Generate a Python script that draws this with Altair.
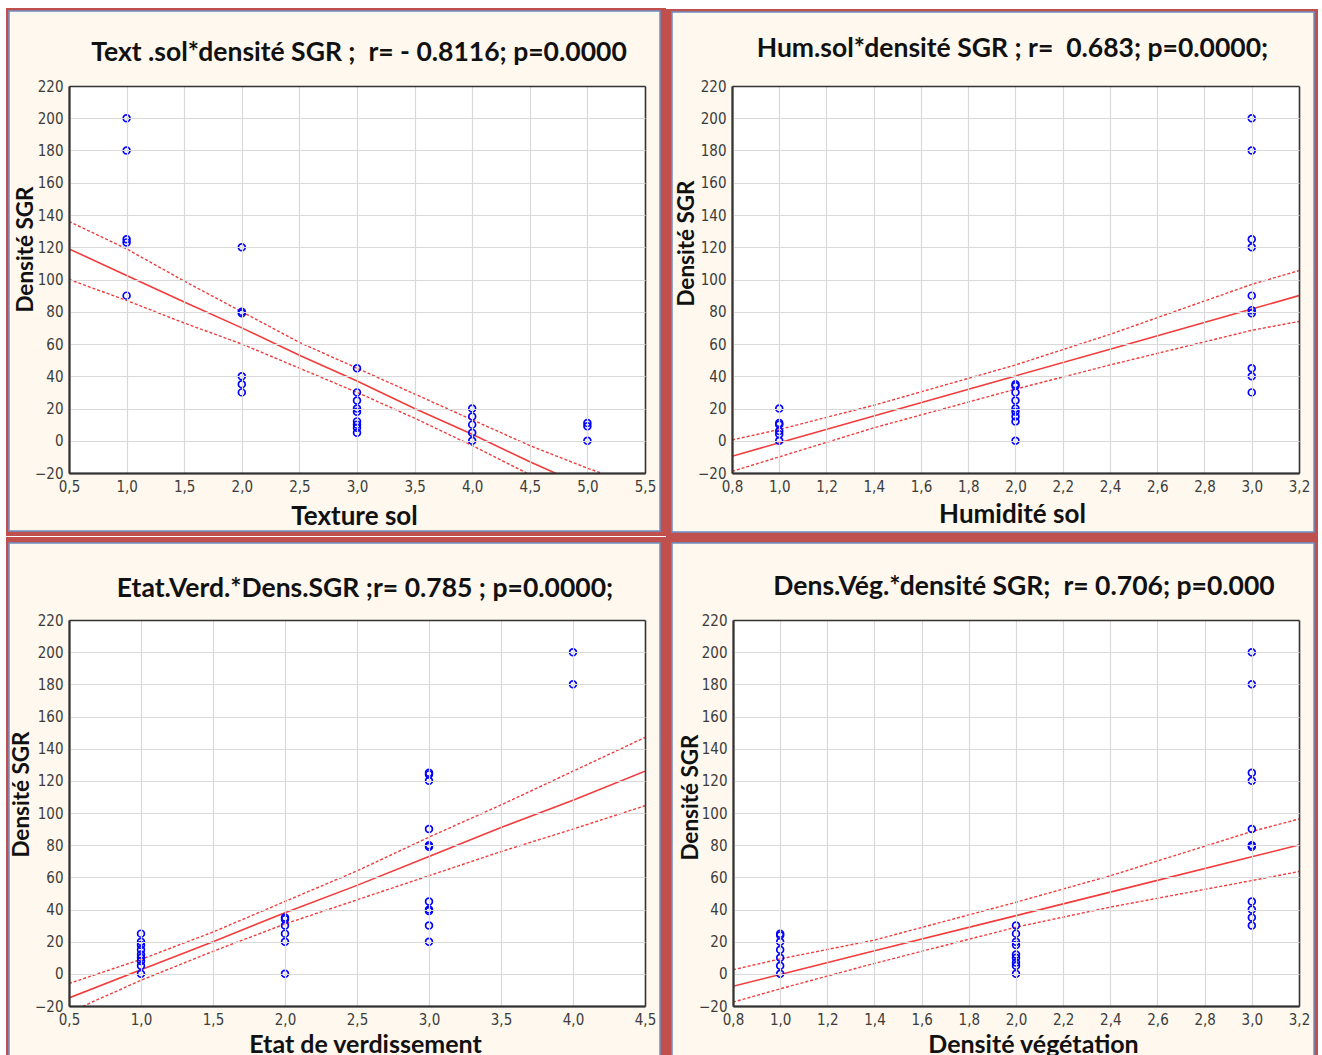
import altair as alt
import pandas as pd

# ---------------- data ----------------
# Panel 1 : Texture sol
tex_levels = [1, 2, 3, 4, 5]
tex_values = [
    [200, 180, 125, 123, 90],
    [120, 80, 79, 40, 35, 30],
    [45, 30, 25, 20, 18, 12, 10, 8, 5],
    [20, 15, 10, 5, 0],
    [11, 9, 0],
]
tex_line_x = [0.5, 1.0, 1.5, 2.0, 2.5, 3.0, 3.5, 4.0, 4.5, 5.0, 5.5]
tex_fit = [119, 102.5, 86, 70, 53, 37, 20, 4, -13, -29, -46]
tex_up = [136, 119, 99, 80, 61, 45, 29, 13, -3, -17, -30]
tex_lo = [100, 87, 73, 60, 45, 30, 14, -3, -21, -38, -55]
tex_ticks = [0.5, 1.0, 1.5, 2.0, 2.5, 3.0, 3.5, 4.0, 4.5, 5.0, 5.5]

# Panel 2 : Humidité sol
hum_levels = [1, 2, 3]
hum_values = [
    [20, 11, 10, 6, 4, 0],
    [35, 34, 30, 25, 20, 18, 15, 12, 0],
    [200, 180, 125, 120, 90, 81, 79, 45, 40, 30],
]
hum_line_x = [0.8, 1.0, 1.4, 2.0, 2.4, 3.0, 3.2]
hum_fit = [-9.6, -1.3, 15.3, 40.2, 56.8, 81.7, 90]
hum_up = [0.5, 7, 22, 47, 66, 97, 105.5]
hum_lo = [-19, -10, 8, 32, 47, 68.5, 74]
hum_ticks = [0.8, 1.0, 1.2, 1.4, 1.6, 1.8, 2.0, 2.2, 2.4, 2.6, 2.8, 3.0, 3.2]

# Panel 3 : Etat de verdissement
ver_levels = [1, 2, 3, 4]
ver_values = [
    [25, 20, 18, 15, 12, 10, 8, 5, 0],
    [35, 34, 30, 25, 20, 0],
    [125, 124, 120, 90, 80, 79, 45, 40, 39, 30, 20],
    [200, 180],
]
ver_line_x = [0.5, 1.0, 1.5, 2.0, 2.5, 3.0, 3.5, 4.0, 4.5]
ver_fit = [-15, 2.5, 20, 38, 55, 73, 91, 108, 126]
ver_up = [-6, 9, 26, 45, 64, 85, 105, 126, 147]
ver_lo = [-24, -4, 14, 31, 46, 61, 76, 90, 104.5]
ver_ticks = [0.5, 1.0, 1.5, 2.0, 2.5, 3.0, 3.5, 4.0, 4.5]

# Panel 4 : Densité végétation
veg_levels = [1, 2, 3]
veg_values = [
    [25, 24, 20, 15, 10, 5, 0],
    [30, 25, 20, 18, 12, 10, 7, 5, 0],
    [200, 180, 125, 120, 90, 80, 79, 45, 40, 35, 30],
]
veg_line_x = [0.8, 1.0, 1.4, 2.0, 2.4, 3.0, 3.2]
veg_fit = [-7.7, -0.4, 14.3, 36.2, 50.8, 72.8, 80.1]
veg_up = [2.5, 9.3, 21, 44.5, 61, 88.5, 96.3]
veg_lo = [-17.6, -9.3, 6.5, 29, 41.5, 58, 63.6]
veg_ticks = hum_ticks

y_ticks = [-20, 0, 20, 40, 60, 80, 100, 120, 140, 160, 180, 200, 220]

NB = "\u00a0"
titles = [
    f"Text .sol*densité SGR ;{NB} r= - 0.8116; p=0.0000",
    f"Hum.sol*densité SGR ; r={NB} 0.683; p=0.0000;",
    "Etat.Verd.*Dens.SGR ;r= 0.785 ; p=0.0000;",
    f"Dens.Vég.*densité SGR;{NB} r= 0.706; p=0.000",
]
x_titles = ["Texture sol", "Humidité sol", "Etat de verdissement", "Densité végétation"]
y_title = "Densité SGR"

# ---------------- styling ----------------
LABEL_FONT = "Liberation Sans Narrow, Arial Narrow, DejaVu Sans Condensed, Liberation Sans, sans-serif"
TITLE_FONT = "Lato, Open Sans, sans-serif"
RED = "#F23C3C"
BLUE = "#0000FF"
FRAME = "#C0504D"
CREAM = "#FEF8EE"
EDGE = "#6F8FC4"
GRID = "#D9D9D9"
DARK = "#333333"


def make_panel(levels, values, lx, fit, up, lo, xdomain, xticks, W, H, boxA, boxB,
               title, t_offset, t_dx, xtitle, xt_x, xt_y, xt_size, yt_x, yt_y):
    pts = pd.DataFrame([(lv, v) for lv, vs in zip(levels, values) for v in vs],
                       columns=["x", "y"])
    ln = pd.DataFrame({"x": lx, "fit": fit, "up": up, "lo": lo})

    ex = f"datum.value <= {xdomain[0] + 1e-6} || datum.value >= {xdomain[1] - 1e-6}"
    ey = "datum.value <= -19.9 || datum.value >= 219.9"
    xaxis = alt.Axis(
        values=xticks, labelExpr="replace(format(datum.value, '.1f'), '.', ',')",
        ticks=False, domain=True, domainColor=DARK, domainWidth=2,
        grid=True,
        gridColor={"condition": {"test": ex, "value": DARK}, "value": GRID},
        gridWidth={"condition": {"test": ex, "value": 1.6}, "value": 1.2},
        labelFont=LABEL_FONT, labelFontSize=15, labelColor="#3c3c3c", labelPadding=6,
        labelFlush=False, labelOverlap=False,
        titleFont=TITLE_FONT, titleFontSize=xt_size, titleFontWeight="bold", titleColor="#111111",
        titleX=xt_x, titleY=xt_y, titleAlign="center", titleBaseline="middle",
        zindex=1,
    )
    yaxis = alt.Axis(
        values=y_ticks, format="d",
        ticks=False, domain=True, domainColor=DARK, domainWidth=2,
        grid=True,
        gridColor={"condition": {"test": ey, "value": DARK}, "value": GRID},
        gridWidth={"condition": {"test": ey, "value": 1.6}, "value": 1.2},
        labelFont=LABEL_FONT, labelFontSize=15, labelColor="#3c3c3c", labelPadding=6,
        labelFlush=False, labelOverlap=False,
        titleFont=TITLE_FONT, titleFontSize=22.5, titleFontWeight="bold", titleColor="#111111",
        titleX=yt_x, titleY=yt_y, titleAngle=-90, titleAlign="center", titleBaseline="middle",
        zindex=1,
    )
    xs = alt.Scale(domain=xdomain, nice=False, zero=False)
    ys = alt.Scale(domain=[-20, 220], nice=False, zero=False)

    def X():
        return alt.X("x:Q", scale=xs, axis=xaxis, title=xtitle)

    def Y(field):
        return alt.Y(f"{field}:Q", scale=ys, axis=yaxis, title=y_title)

    one = alt.Data(values=[{"k": 1}])
    bg_a = alt.Chart(one).mark_rect(fill=FRAME, strokeWidth=0).encode(
        x=alt.value(boxA[0]), x2=alt.value(boxA[1]), y=alt.value(boxA[2]), y2=alt.value(boxA[3]))
    bg_b = alt.Chart(one).mark_rect(fill=CREAM, stroke=EDGE, strokeWidth=1.5).encode(
        x=alt.value(boxB[0]), x2=alt.value(boxB[1]), y=alt.value(boxB[2]), y2=alt.value(boxB[3]))
    plot_bg = alt.Chart(one).mark_rect(fill="white", strokeWidth=0).encode(
        x=alt.value(0), x2=alt.value(W), y=alt.value(0), y2=alt.value(H))

    base = alt.Chart(ln)
    lo_l = base.mark_line(color=RED, strokeWidth=1.4, strokeDash=[3, 2], clip=True).encode(x=X(), y=Y("lo"))
    up_l = base.mark_line(color=RED, strokeWidth=1.4, strokeDash=[3, 2], clip=True).encode(x=X(), y=Y("up"))
    fit_l = base.mark_line(color=RED, strokeWidth=1.6, clip=True).encode(x=X(), y=Y("fit"))
    pts_l = alt.Chart(pts).mark_point(shape="circle", filled=False, color=BLUE, size=46,
                                      strokeWidth=1.7, opacity=1).encode(x=X(), y=Y("y"))

    return alt.layer(bg_a, bg_b, plot_bg, lo_l, up_l, fit_l, pts_l).properties(
        width=W, height=H,
        title=alt.TitleParams(text=title, font=TITLE_FONT, fontSize=26.5, fontWeight="bold",
                              color="#111111", anchor="middle", frame="group",
                              offset=t_offset, dx=t_dx),
    )


p1 = make_panel(tex_levels, tex_values, tex_line_x, tex_fit, tex_up, tex_lo,
                [0.5, 5.5], tex_ticks, 576, 387,
                (-63, 597, -78, 450), (-60, 591, -75, 445),
                titles[0], -58, 2, x_titles[0], 285, 43, 26, -44, 163)
p2 = make_panel(hum_levels, hum_values, hum_line_x, hum_fit, hum_up, hum_lo,
                [0.8, 3.2], hum_ticks, 567, 387,
                (-66, 586, -77, 451), (-60, 582, -74, 446),
                titles[1], -53, -3, x_titles[1], 280, 41, 26, -46, 157)
p3 = make_panel(ver_levels, ver_values, ver_line_x, ver_fit, ver_up, ver_lo,
                [0.5, 4.5], ver_ticks, 576, 386,
                (-63, 597, -83, 436), (-60, 591, -77, 436),
                titles[2], -65, 8, x_titles[2], 296, 38, 25, -48, 174)
p4 = make_panel(veg_levels, veg_values, veg_line_x, veg_fit, veg_up, veg_lo,
                [0.8, 3.2], veg_ticks, 566, 386,
                (-67, 585, -83, 436), (-61, 581, -77, 436),
                titles[3], -63, 8, x_titles[3], 300, 38, 25, -43, 177)

row1 = alt.hconcat(p1, p2, spacing=0)
row2 = alt.hconcat(p3, p4, spacing=0)
chart = alt.vconcat(row1, row2, spacing=0).properties(
    padding={"left": 6, "top": 8, "right": 4, "bottom": 0},
    background="white",
).configure_view(stroke=None)

chart.save("out.html", embed_options={"renderer": "svg", "actions": False})
